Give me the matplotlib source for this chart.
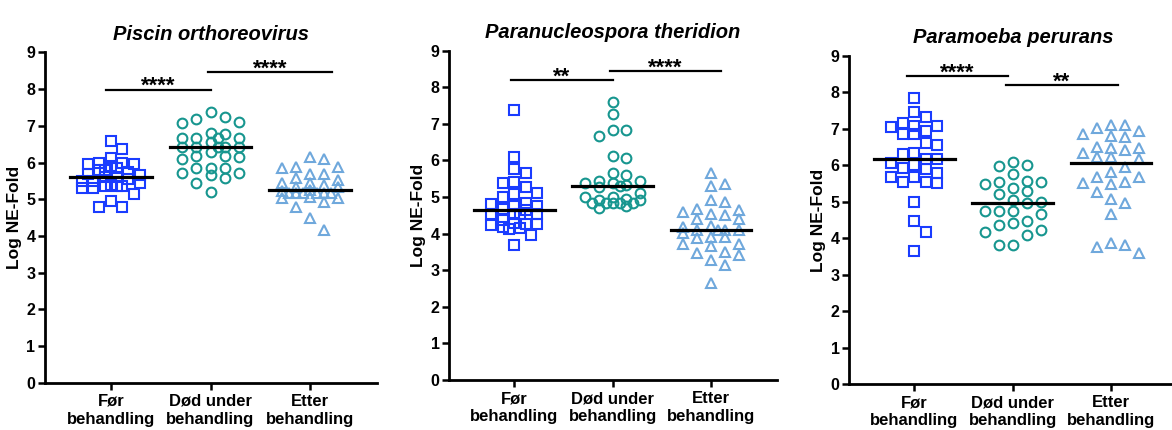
import numpy as np
import matplotlib
matplotlib.use("Agg")
import matplotlib.pyplot as plt

plt.rcParams['font.family'] = ['Liberation Sans', 'DejaVu Sans']
plt.rcParams['font.weight'] = 'bold'

# --- data (Log NE-Fold) ---
groups = ["Før\nbehandling", "Død under\nbehandling", "Etter\nbehandling"]
yticks = list(range(10))

titles = ["Piscin orthoreovirus", "Paranucleospora theridion", "Paramoeba perurans"]

prv_for = [6.59, 6.37, 6.13, 6.0, 5.98, 5.95, 5.95, 5.9, 5.85, 5.8, 5.8, 5.75, 5.7, 5.65,
           5.6, 5.6, 5.55, 5.5, 5.5, 5.45, 5.4, 5.35, 5.35, 5.35, 5.3, 5.3, 5.15, 4.95, 4.8, 4.8]
prv_dod = [7.38, 7.07, 7.11, 7.2, 7.23, 6.81, 6.79, 6.68, 6.68, 6.57, 6.68, 6.68, 6.43, 6.43,
           6.43, 6.43, 6.43, 6.29, 6.16, 6.18, 6.09, 6.18, 5.84, 5.84, 5.84, 5.72, 5.72, 5.66,
           5.57, 5.45, 5.2]
prv_etter = [6.16, 6.09, 5.89, 5.89, 5.84, 5.7, 5.7, 5.52, 5.57, 5.39, 5.45, 5.45, 5.34, 5.34,
             5.25, 5.18, 5.18, 5.16, 5.18, 5.18, 5.18, 5.23, 4.93, 5.02, 5.07, 5.02, 4.8, 4.48, 4.16]

pt_for = [7.38, 6.1, 5.76, 5.65, 5.42, 5.39, 5.28, 5.07, 5.10, 5.0, 4.75, 4.81, 4.75, 4.84, 4.66,
          4.55, 4.64, 4.55, 4.55, 4.55, 4.37, 4.23, 4.14, 4.16, 4.19, 4.28, 4.26, 4.26, 3.96, 3.69]
pt_dod = [7.6, 7.26, 6.83, 6.83, 6.67, 6.08, 6.12, 5.67, 5.6, 5.44, 5.45, 5.28, 5.31, 5.39, 5.39,
          5.33, 5.12, 4.99, 4.92, 4.83, 4.84, 4.94, 4.92, 4.84, 4.83, 4.83, 4.99, 4.69, 4.75]
pt_etter = [5.65, 5.3, 5.37, 4.87, 4.92, 4.64, 4.66, 4.55, 4.5, 4.6, 4.39, 4.39, 4.19, 4.21, 4.1,
            4.1, 4.1, 4.1, 3.87, 3.92, 4.01, 3.92, 3.73, 3.73, 3.66, 3.42, 3.51, 3.46, 3.14, 3.28, 2.64]

pp_for = [7.84, 7.45, 7.32, 7.08, 7.08, 7.15, 7.04, 6.95, 6.85, 6.85, 6.61, 6.56, 6.35, 6.31, 6.17,
          6.17, 6.07, 6.01, 5.92, 5.89, 5.69, 5.8, 5.69, 5.51, 5.55, 5.55, 4.99, 4.46, 4.18, 3.66]
pp_dod = [6.08, 5.99, 6.01, 5.75, 5.55, 5.55, 5.57, 5.3, 5.39, 5.49, 5.21, 4.99, 5.05, 4.96, 4.76,
          4.76, 4.66, 4.76, 4.46, 4.36, 4.41, 4.18, 4.23, 4.09, 3.8, 3.82]
pp_etter = [7.11, 7.11, 7.02, 6.79, 6.86, 6.93, 6.81, 6.42, 6.47, 6.47, 6.51, 6.33, 6.24, 6.17, 6.24,
            5.95, 5.69, 5.69, 5.83, 5.51, 5.49, 5.55, 5.28, 4.96, 5.07, 4.67, 3.6, 3.86, 3.77, 3.82]

panels_data = [[prv_for, prv_dod, prv_etter],
               [pt_for, pt_dod, pt_etter],
               [pp_for, pp_dod, pp_etter]]

# significance brackets: (x start, x end, height, stars)
sig_bars = [[(-0.05, 1.0, 7.99, "****"), (0.97, 2.22, 8.47, "****")],
            [(-0.03, 1.0, 8.2, "**"), (0.97, 2.1, 8.44, "****")],
            [(-0.07, 0.95, 8.45, "****"), (0.93, 2.07, 8.2, "**")]]

# --- styles ---
markers = ['s', 'o', '^']
colors = ['#1a3cff', '#17968f', '#6fa8dc']
msizes = [7.0, 7.0, 7.6]
steps_px = [11.5, 14.0, 14.0]   # horizontal spacing between neighbours (pixels)

axes_pos = [[0.0384, 0.110, 0.2833, 0.768],
            [0.3834, 0.1163, 0.2794, 0.7658],
            [0.7247, 0.107, 0.2796, 0.7628]]

PX_X = 99.0   # pixels per x unit
PX_Y = 36.7   # pixels per y unit


def swarm_offsets(vals, step, row_px=12.0, max_px=29.0):
    # greedy swarm on a half-step grid, limited to +-max_px
    vals = np.asarray(vals, dtype=float)
    kmax = int(max_px // (step / 2))
    cands = [0.0]
    for k in range(1, kmax + 1):
        cands += [k * step / 2, -k * step / 2]
    placed = []
    off = np.zeros(len(vals))
    for i in np.argsort(-vals):
        y = vals[i] * PX_Y
        best, best_score = None, -1.0
        for x in cands:
            score = min([max(abs(x - px) / step, abs(y - py) / row_px)
                         for px, py in placed] + [9.0])
            if score >= 0.99:
                best = x
                break
            if score > best_score:
                best, best_score = x, score
        placed.append((best, y))
        off[i] = best / PX_X
    return off


fig = plt.figure(figsize=(11.72, 4.3), dpi=100)

for p in range(3):
    ax = fig.add_axes(axes_pos[p])
    for g, vals in enumerate(panels_data[p]):
        off = swarm_offsets(vals, steps_px[g])
        ax.plot(g + off, vals, linestyle='none', marker=markers[g], ms=msizes[g],
                mfc='none', mec=colors[g], mew=1.5, zorder=3)
        med = np.median(vals)
        ax.plot([g - 0.41, g + 0.41], [med, med], color='black', lw=2.3, zorder=4)

    for x0, x1, h, stars in sig_bars[p]:
        ax.plot([x0, x1], [h, h], color='black', lw=1.6, clip_on=False)
        ax.text((x0 + x1) / 2, h - 0.07, stars, ha='center', va='baseline',
                fontsize=16, fontweight='bold')

    ax.set_xlim(-0.66, 2.67)
    ax.set_ylim(0, 9)
    ax.set_yticks(yticks)
    ax.set_xticks(range(3))
    ax.set_xticklabels(groups, fontsize=12, fontweight='bold', linespacing=1.25)
    ax.tick_params(axis='y', labelsize=11.5, width=1.8, length=5, pad=2)
    ax.tick_params(axis='x', width=1.8, length=5, pad=3)
    for t in ax.get_yticklabels():
        t.set_fontweight('bold')
    ax.spines['top'].set_visible(False)
    ax.spines['right'].set_visible(False)
    ax.spines['left'].set_linewidth(2.0)
    ax.spines['bottom'].set_linewidth(2.0)
    ax.set_ylabel("Log NE-Fold", fontsize=12.5, fontweight='bold', labelpad=3)
    ax.set_title(titles[p], fontsize=14.5, fontweight='bold', fontstyle='italic', pad=9)

fig.savefig("out.png", dpi=100)
